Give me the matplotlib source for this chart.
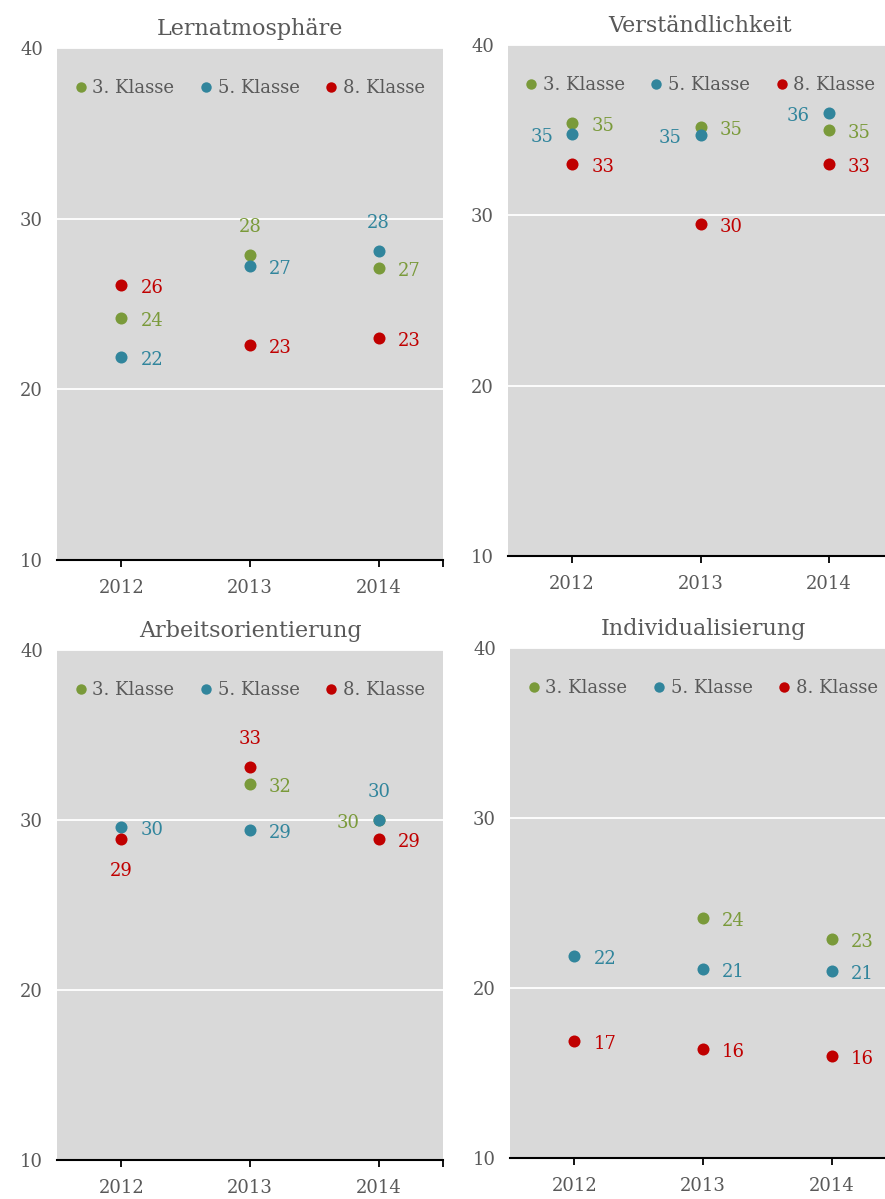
import numpy as np
import matplotlib.pyplot as plt
from matplotlib.lines import Line2D

plt.rcParams['font.family'] = ['DejaVu Serif']

#---------- DATA -----------------------
years = ['2012', '2013', '2014']
groups = ['3. Klasse', '5. Klasse', '8. Klasse']
titles = ['Lernatmosphäre', 'Verständlichkeit', 'Arbeitsorientierung', 'Individualisierung']

# values per panel: [3. Klasse, 5. Klasse, 8. Klasse]
lern = [[24.2, 27.9, 27.1], [21.9, 27.2, 28.1], [26.1, 22.6, 23.0]]
verst = [[35.4, 35.2, 35.0], [34.8, 34.7, 36.0], [33.0, 29.5, 33.0]]
arbeit = [[np.nan, 32.1, 30.0], [29.6, 29.4, 30.0], [28.9, 33.1, 28.9]]
indiv = [[np.nan, 24.1, 22.9], [21.9, 21.1, 21.0], [16.9, 16.4, 16.0]]

# where the value label sits: r = right, l = left, t = top, b = bottom
lern_pos = [['r', 't', 'r'], ['r', 'r', 't'], ['r', 'r', 'r']]
verst_pos = [['r', 'r', 'r'], ['l', 'l', 'l'], ['r', 'r', 'r']]
arbeit_pos = [['r', 'r', 'l'], ['r', 'r', 't'], ['b', 't', 'r']]
indiv_pos = [['r', 'r', 'r'], ['r', 'r', 'r'], ['r', 'r', 'r']]

colors = ['#7A9A3A', '#31859C', '#C00000']
gray_txt = '#595959'

panels = [lern, verst, arbeit, indiv]
positions = [lern_pos, verst_pos, arbeit_pos, indiv_pos]

# axes rectangles in pixels: left, top, right, bottom
rects = [(57, 48, 443, 560), (508, 45, 893, 556),
         (57, 650, 443, 1160), (510, 648, 896, 1158)]

W, H = 885, 1199
fig = plt.figure(figsize=(W / 100, H / 100), dpi=100)

offsets = {'r': (19, -3, 'left', 'center'),
           'l': (-19, -3, 'right', 'center'),
           't': (0, 28, 'center', 'center'),
           'b': (0, -32, 'center', 'center')}

for title, data, pos, (l, t, r, b) in zip(titles, panels, positions, rects):
    ax = fig.add_axes([l / W, (H - b) / H, (r - l) / W, (b - t) / H])
    ax.set_facecolor('#D9D9D9')
    x = np.arange(len(years))

    for vals, p, c in zip(data, pos, colors):
        ax.scatter(x, vals, s=75, color=c, zorder=3, linewidths=0)
        for xi, v, pp in zip(x, vals, p):
            if np.isnan(v):
                continue
            dx, dy, ha, va = offsets[pp]
            ax.annotate(f'{v:.0f}', (xi, v), xytext=(dx, dy), textcoords='offset pixels',
                        ha=ha, va=va, color=c, fontsize=13)

    ax.set_xlim(-0.5, 2.5)
    ax.set_ylim(10, 40)
    ax.set_yticks([10, 20, 30, 40])
    ax.set_xticks(x)
    ax.set_xticklabels(years)
    ax.set_xticks([2.5], minor=True)
    ax.yaxis.grid(True, color='white', linewidth=1.3)
    ax.set_axisbelow(True)
    for s in ['top', 'right', 'left']:
        ax.spines[s].set_visible(False)
    ax.spines['bottom'].set_linewidth(1.5)
    ax.tick_params(axis='y', length=0, pad=10, labelsize=13, labelcolor=gray_txt)
    ax.tick_params(axis='x', which='both', length=5, width=1.3, pad=9, labelsize=13,
                   labelcolor=gray_txt)
    ax.set_title(title, fontsize=16, color=gray_txt, pad=9)

    handles = [Line2D([], [], marker='o', linestyle='', markersize=7.5, color=c,
                      markeredgewidth=0) for c in colors]
    ax.legend(handles, groups, loc='upper center', bbox_to_anchor=(0.5, 0.953), ncol=3,
              frameon=False, fontsize=13, handlelength=0.6, handletextpad=0.35,
              columnspacing=1.45, labelcolor=gray_txt, borderaxespad=0)

fig.savefig('out.png', dpi=100)
